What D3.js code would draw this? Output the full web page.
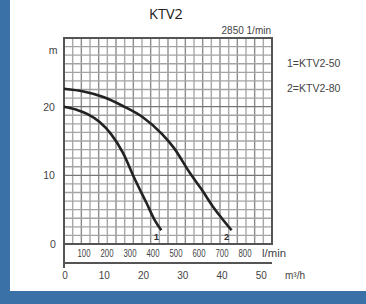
<!DOCTYPE html>
<html>
<head>
<meta charset="utf-8">
<script src="https://cdn.jsdelivr.net/npm/d3@7"></script>
<style>
  body { margin: 0; background: #3a72a8; }
</style>
</head>
<body>
<script>
// pump curves: flow in m3/h, head in m
var curve1Q = [0, 3, 6, 9, 12, 15, 18, 21, 23, 24.8];
var curve1H = [20.0, 19.6, 18.9, 17.8, 16.0, 13.3, 9.5, 6.0, 3.6, 2.0];
var curve2Q = [0, 5, 10, 15, 20, 25, 28, 32, 35, 38, 40, 42.7];
var curve2H = [22.6, 22.2, 21.4, 20.1, 18.5, 16.0, 14.0, 10.4, 8.0, 5.4, 3.9, 2.0];
var curveNames = ["1", "2"];
var legendLabels = ["1=KTV2-50", "2=KTV2-80"];
var headTicks = [0, 10, 20];
var flowTicks = [0, 10, 20, 30, 40, 50];
var lminTicks = [100, 200, 300, 400, 500, 600, 700, 800];
var title = "KTV2";
var speedLabel = "2850 1/min";

var W = 366, H = 304;
var svg = d3.select("body").append("svg")
    .attr("width", W)
    .attr("height", H);

// white panel, blue shows on the left and bottom
svg.append("rect")
    .attr("x", 10).attr("y", 0)
    .attr("width", W - 10).attr("height", 291)
    .attr("fill", "#fff");

var x = d3.scaleLinear().domain([0, 53]).range([64, 272]);
var y = d3.scaleLinear().domain([0, 30]).range([244, 38]);
// l/min labels sit a little off the m3/h scale on the original
var xl = d3.scaleLinear().domain([100, 800]).range([84, 245]);

var g = svg.append("g");
var font = "Liberation Sans, Arial, sans-serif";

// grid, fine mesh of the original
g.selectAll("line.vg")
    .data(d3.range(1, 24).map(function(i) { return i * 53 / 24; })).enter()
    .append("line")
    .attr("x1", function(d) { return x(d); })
    .attr("x2", function(d) { return x(d); })
    .attr("y1", y(30)).attr("y2", y(0))
    .attr("stroke", function(d, i) { return i % 2 ? "#8c8c8c" : "#a8a8a8"; })
    .attr("stroke-width", 1.4);

g.selectAll("line.hg")
    .data(d3.range(1, 24).map(function(i) { return i * 1.25; })).enter()
    .append("line")
    .attr("x1", x(0)).attr("x2", x(53))
    .attr("y1", function(d) { return y(d); })
    .attr("y2", function(d) { return y(d); })
    .attr("stroke", function(d) { return d % 10 == 0 ? "#777" : "#a4a4a4"; })
    .attr("stroke-width", 1.3);

// frame
g.append("rect")
    .attr("x", x(0)).attr("y", y(30))
    .attr("width", x(53) - x(0)).attr("height", y(0) - y(30))
    .attr("fill", "none")
    .attr("stroke", "#555")
    .attr("stroke-width", 2);
g.append("line")
    .attr("x1", x(0)).attr("x2", x(0))
    .attr("y1", y(0)).attr("y2", 268)
    .attr("stroke", "#555").attr("stroke-width", 2);
g.append("line")
    .attr("x1", x(0)).attr("x2", x(53))
    .attr("y1", 263).attr("y2", 263)
    .attr("stroke", "#555").attr("stroke-width", 2);

// curves
var line = d3.line()
    .x(function(d) { return x(d[0]); })
    .y(function(d) { return y(d[1]); })
    .curve(d3.curveMonotoneX);

var curves = [d3.zip(curve1Q, curve1H), d3.zip(curve2Q, curve2H)];

g.selectAll("path.curve")
    .data(curves).enter()
    .append("path")
    .attr("d", line)
    .attr("fill", "none")
    .attr("stroke", "#222")
    .attr("stroke-width", 2.6);

g.selectAll("text.cn")
    .data(curves).enter()
    .append("text")
    .attr("x", function(d) { return x(d[d.length - 1][0]) - 5; })
    .attr("y", function(d) { return y(d[d.length - 1][1]) + 10; })
    .attr("text-anchor", "middle")
    .attr("font-family", font)
    .attr("font-size", 9.5)
    .attr("font-weight", "bold")
    .attr("fill", "#333")
    .text(function(d, i) { return curveNames[i]; });

// head axis labels
g.selectAll("text.yt")
    .data(headTicks).enter()
    .append("text")
    .attr("x", function(d) { return d == 0 ? 53 : 49; })
    .attr("y", function(d) { return y(d) + 4; })
    .attr("text-anchor", "middle")
    .attr("font-family", font)
    .attr("font-size", 10.5)
    .attr("fill", "#444")
    .text(function(d) { return d; });
g.append("text")
    .attr("x", 53).attr("y", y(30) + 16)
    .attr("text-anchor", "middle")
    .attr("font-family", font).attr("font-size", 10.5)
    .attr("fill", "#444")
    .text("m");

// l/min row, squeezed like the original
g.selectAll("text.lt")
    .data(lminTicks).enter()
    .append("text")
    .attr("x", function(d) { return xl(d) - 6.5; })
    .attr("y", 257)
    .attr("textLength", 13)
    .attr("lengthAdjust", "spacingAndGlyphs")
    .attr("font-family", font)
    .attr("font-size", 10)
    .attr("fill", "#444")
    .text(function(d) { return d; });
g.append("text")
    .attr("x", 262).attr("y", 257)
    .attr("textLength", 24)
    .attr("lengthAdjust", "spacingAndGlyphs")
    .attr("font-family", font).attr("font-size", 10)
    .attr("fill", "#444")
    .text("l/min");

// m3/h row
g.selectAll("text.xt")
    .data(flowTicks).enter()
    .append("text")
    .attr("x", function(d) { return x(d) + 1; })
    .attr("y", 279)
    .attr("text-anchor", "middle")
    .attr("font-family", font)
    .attr("font-size", 10)
    .attr("fill", "#444")
    .text(function(d) { return d; });
g.append("text")
    .attr("x", 295).attr("y", 279)
    .attr("text-anchor", "middle")
    .attr("font-family", font).attr("font-size", 10)
    .attr("fill", "#444")
    .text("m³/h");

// title, speed and legend
svg.append("text")
    .attr("x", 166).attr("y", 19)
    .attr("text-anchor", "middle")
    .attr("font-family", "Open Sans, sans-serif")
    .attr("font-size", 14.5)
    .attr("fill", "#222")
    .text(title);
svg.append("text")
    .attr("x", 271).attr("y", 34)
    .attr("text-anchor", "end")
    .attr("font-family", font).attr("font-size", 10)
    .attr("fill", "#444")
    .text(speedLabel);

svg.selectAll("text.leg")
    .data(legendLabels).enter()
    .append("text")
    .attr("x", 287)
    .attr("y", function(d, i) { return 67 + i * 25; })
    .attr("font-family", font)
    .attr("font-size", 10.5)
    .attr("fill", "#444")
    .text(function(d) { return d; });
</script>
</body>
</html>
